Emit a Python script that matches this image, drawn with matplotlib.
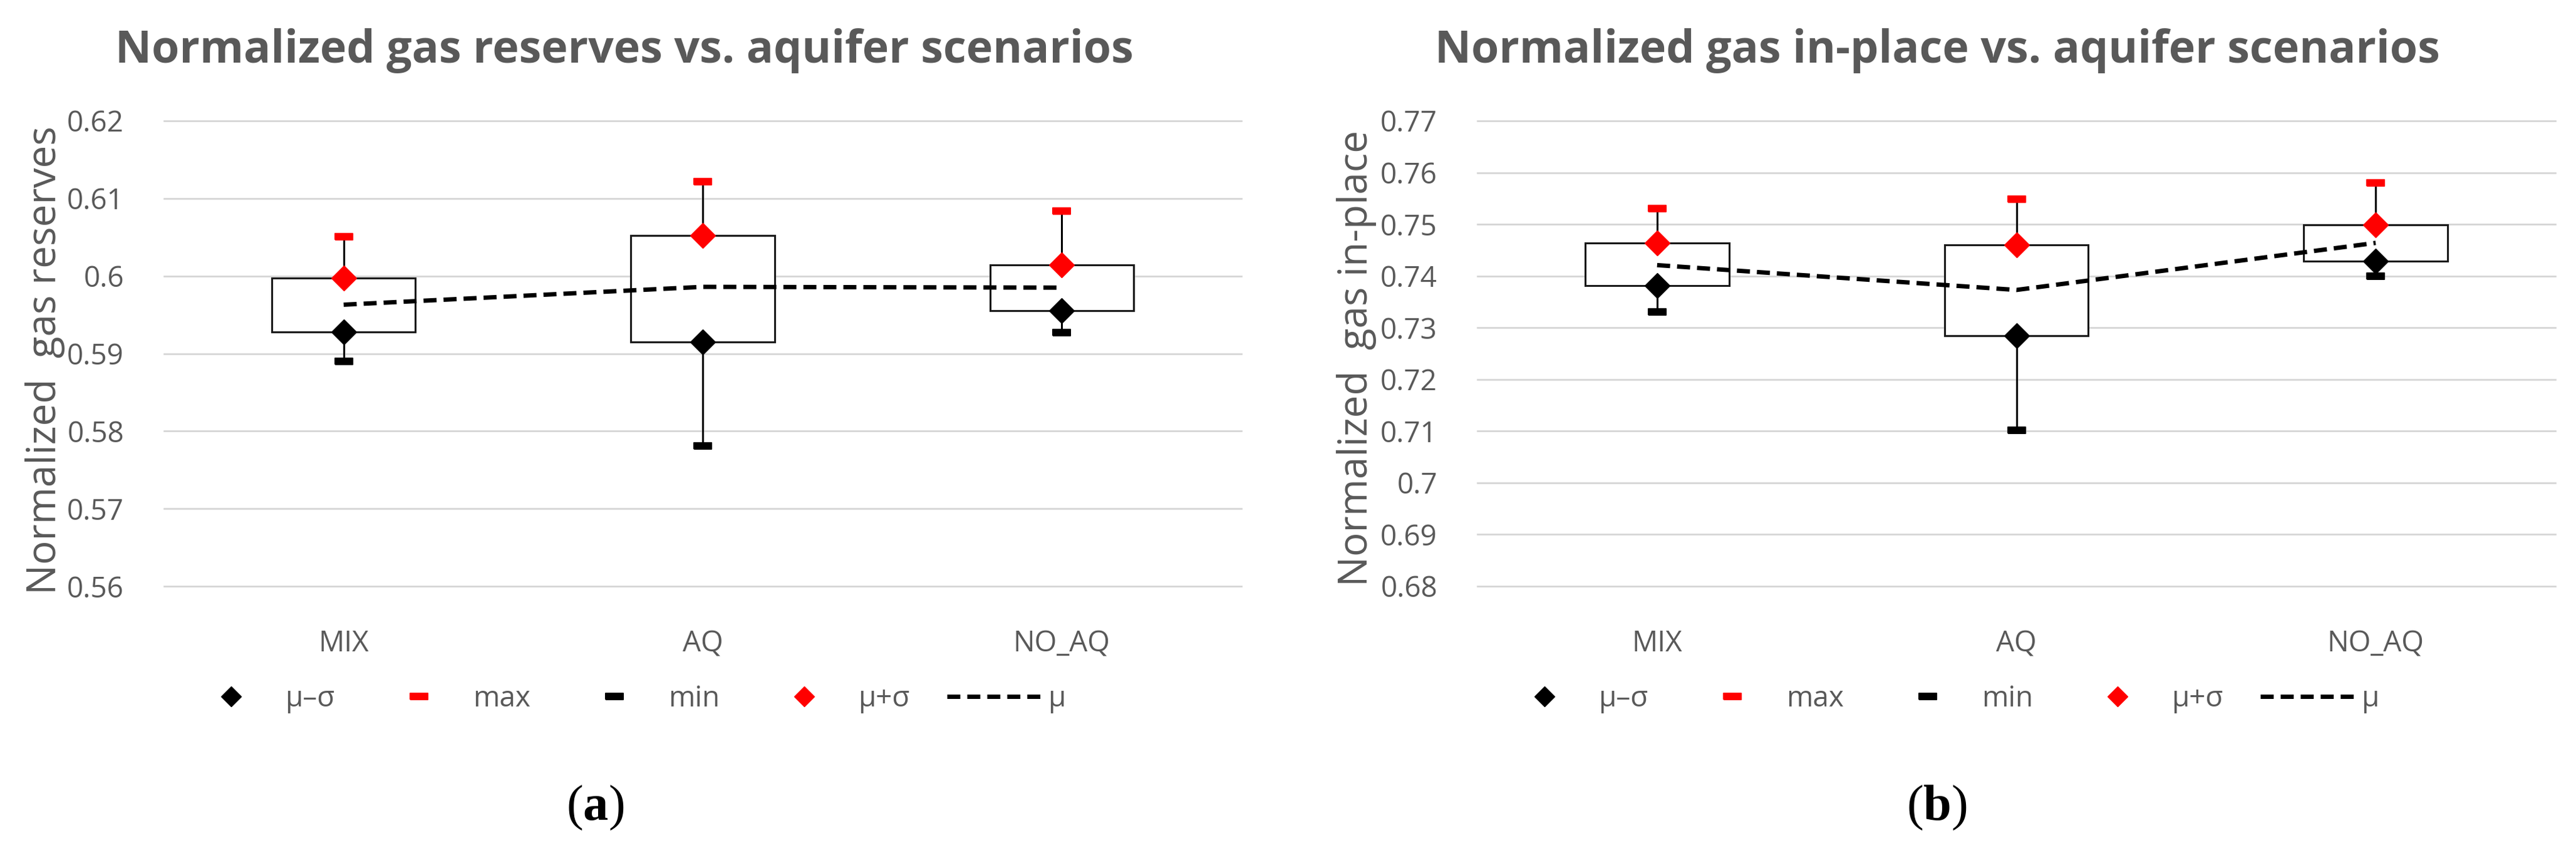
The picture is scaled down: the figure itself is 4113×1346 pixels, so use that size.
import matplotlib
matplotlib.use("Agg")
import matplotlib.pyplot as plt
from matplotlib.lines import Line2D

# scenarios on the x axis
categories = ['MIX', 'AQ', 'NO_AQ']

# (a) normalized gas reserves
res_mean = [0.5963, 0.5986, 0.5985]
res_plus = [0.5997, 0.6052, 0.6014]    # mu + sigma
res_minus = [0.5928, 0.5915, 0.5955]   # mu - sigma
res_max = [0.6051, 0.6122, 0.6084]
res_min = [0.5890, 0.5781, 0.5927]
res_ticks = [0.56, 0.57, 0.58, 0.59, 0.60, 0.61, 0.62]
res_ticklabels = ['0.56', '0.57', '0.58', '0.59', '0.6', '0.61', '0.62']

# (b) normalized gas in-place
gip_mean = [0.7421, 0.7373, 0.7464]
gip_plus = [0.7464, 0.7460, 0.7499]
gip_minus = [0.7381, 0.7285, 0.7429]
gip_max = [0.7530, 0.7549, 0.7580]
gip_min = [0.7330, 0.7102, 0.7399]
gip_ticks = [0.68, 0.69, 0.70, 0.71, 0.72, 0.73, 0.74, 0.75, 0.76, 0.77]
gip_ticklabels = ['0.68', '0.69', '0.7', '0.71', '0.72', '0.73', '0.74',
                  '0.75', '0.76', '0.77']

legend_labels = ['\u03bc\u2013\u03c3', 'max', 'min', '\u03bc+\u03c3', '\u03bc']

GRAY = '#595959'
TXT = ['Open Sans', 'DejaVu Sans']

plt.rcParams['font.family'] = TXT
plt.rcParams['mathtext.fontset'] = 'custom'
plt.rcParams['mathtext.bf'] = 'Liberation Serif:bold'

W, H = 4113, 1346
fig = plt.figure(figsize=(W / 100, H / 100), dpi=100)

# small flat rectangle used for the max / min caps
cap = [(-3, -1), (3, -1), (3, 1), (-3, 1), (-3, -1)]
MEAN_LW = 5.0
MEAN_DASH = (3.0, 1.6)


def draw_panel(ax, mean, plus, minus, vmax, vmin, ticks, ticklabels, ylim):
    x = list(range(len(categories)))
    ax.set_xlim(-0.5, len(categories) - 0.5)
    ax.set_ylim(*ylim)
    ax.set_yticks(ticks)
    ax.set_yticklabels(ticklabels)
    ax.set_xticks(x)
    ax.set_xticklabels(categories)
    for s in ax.spines.values():
        s.set_visible(False)
    ax.tick_params(length=0, labelsize=33, labelcolor=GRAY)
    ax.tick_params(axis='y', pad=46)
    ax.tick_params(axis='x', pad=50)
    ax.yaxis.grid(True, color='#d4d4d4', lw=1.9)
    ax.set_axisbelow(True)
    for gl in ax.get_ygridlines():
        gl.set_clip_on(False)

    # whiskers min..max
    ax.vlines(x, vmin, vmax, color='black', lw=2.2, zorder=2)
    # box between mu-sigma and mu+sigma
    hgt = [p - m for p, m in zip(plus, minus)]
    ax.bar(x, hgt, bottom=minus, width=0.4, color='white',
           edgecolor='#1a1a1a', lw=2.2, zorder=3)
    # mean
    ax.plot(x, mean, color='black', lw=MEAN_LW, dashes=MEAN_DASH, zorder=4)
    # markers
    ax.plot(x, vmax, ls='none', marker=cap, ms=20, color='red', mew=1.5,
            zorder=5, clip_on=False)
    ax.plot(x, vmin, ls='none', marker=cap, ms=20, color='black', mew=1.5,
            zorder=5, clip_on=False)
    ax.plot(x, minus, ls='none', marker='D', ms=20, color='black', mew=1,
            zorder=6)
    ax.plot(x, plus, ls='none', marker='D', ms=20, color='red', mew=1,
            zorder=6)

    handles = [
        Line2D([], [], ls='none', marker='D', ms=16, color='black'),
        Line2D([], [], ls='none', marker=cap, ms=20, mew=1.5, color='red'),
        Line2D([], [], ls='none', marker=cap, ms=20, mew=1.5, color='black'),
        Line2D([], [], ls='none', marker='D', ms=16, color='red'),
        Line2D([], [], color='black', lw=MEAN_LW, dashes=MEAN_DASH),
    ]
    leg = ax.legend(handles, legend_labels, loc='center left',
                    bbox_to_anchor=(0.019, -0.242), ncol=5, frameon=False,
                    fontsize=33, handlelength=3.24, handletextpad=0.27,
                    columnspacing=1.3, borderpad=0, borderaxespad=0)
    for t in leg.get_texts():
        t.set_color(GRAY)


ax1 = fig.add_axes([262 / W, 410 / H, 1720 / W, 743 / H])
draw_panel(ax1, res_mean, res_plus, res_minus, res_max, res_min,
           res_ticks, res_ticklabels, (0.56, 0.62))

ax2 = fig.add_axes([2359 / W, 410 / H, 1721 / W, 743 / H])
draw_panel(ax2, gip_mean, gip_plus, gip_minus, gip_max, gip_min,
           gip_ticks, gip_ticklabels, (0.68, 0.77))

# titles
fig.text(997 / W, 1 - 100 / H, 'Normalized gas reserves vs. aquifer scenarios',
         ha='center', va='baseline', fontsize=51.5, fontweight='bold',
         color=GRAY)
fig.text(3093 / W, 1 - 100 / H, 'Normalized gas in-place vs. aquifer scenarios',
         ha='center', va='baseline', fontsize=51.5, fontweight='bold',
         color=GRAY)

# y labels
fig.text(72 / W, 1 - 575 / H, 'Normalized  gas reserves', rotation=90,
         ha='center', va='center', fontsize=46, color=GRAY)
fig.text(2166 / W, 1 - 572 / H, 'Normalized  gas in-place', rotation=90,
         ha='center', va='center', fontsize=46, color=GRAY)

# sub captions
fig.text(950 / W, 1 - 1290 / H, r'($\mathbf{a}$)', ha='center', va='center',
         fontsize=58, family=['Liberation Serif', 'DejaVu Serif'])
fig.text(3092 / W, 1 - 1290 / H, r'($\mathbf{b}$)', ha='center', va='center',
         fontsize=58, family=['Liberation Serif', 'DejaVu Serif'])

fig.savefig('out.png', dpi=100)
